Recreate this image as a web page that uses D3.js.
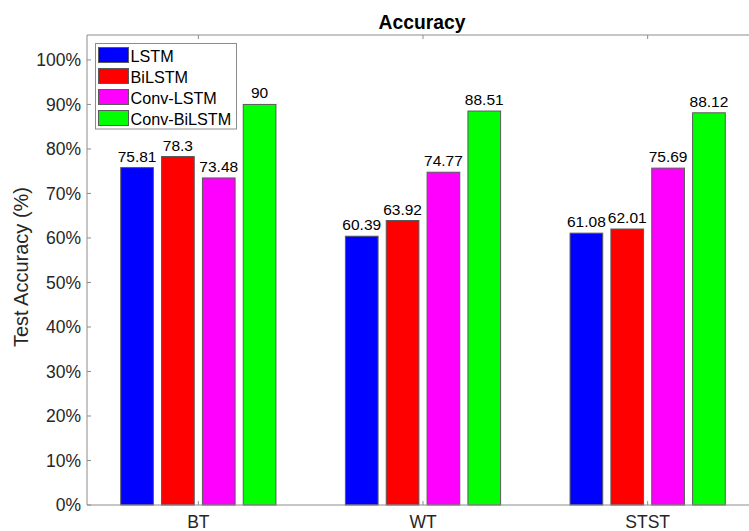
<!DOCTYPE html>
<html>
<head>
<meta charset="utf-8">
<script src="https://cdn.jsdelivr.net/npm/d3@7"></script>
<style>
  html, body { margin: 0; padding: 0; background: #fff; }
  svg { display: block; font-family: "Liberation Sans", Arial, Helvetica, sans-serif; }
</style>
</head>
<body>
<svg id="chart" width="749" height="531"></svg>
<script>
const categories = ["BT", "WT", "STST"];
const seriesNames = ["LSTM", "BiLSTM", "Conv-LSTM", "Conv-BiLSTM"];
const seriesColors = ["#0000ff", "#ff0000", "#ff00ff", "#00ff00"];
const LSTM = [75.81, 60.39, 61.08];
const BiLSTM = [78.3, 63.92, 62.01];
const ConvLSTM = [73.48, 74.77, 75.69];
const ConvBiLSTM = [90, 88.51, 88.12];
const yTicks = [0, 10, 20, 30, 40, 50, 60, 70, 80, 90, 100];
const labelTexts = [
  ["75.81", "60.39", "61.08"],
  ["78.3", "63.92", "62.01"],
  ["73.48", "74.77", "75.69"],
  ["90", "88.51", "88.12"]
];
const series = [LSTM, BiLSTM, ConvLSTM, ConvBiLSTM];

const svg = d3.select("#chart");
const pLeft = 87, pRight = 760, pTop = 35, pBottom = 505;

const x = d3.scaleLinear().domain([0.5, 3.5]).range([pLeft - 1, pRight]);
const y = d3.scaleLinear().domain([0, 105.6]).range([pBottom, pTop]);

const axisColor = "#8c8c8c";
const textColor = "#262626";

// MATLAB grouped bar geometry
const nS = series.length;
const groupW = Math.min(0.8, nS / (nS + 1.5));
const step = groupW / nS;
const barW = step * 0.8;

const g = svg.append("g");

series.forEach((vals, si) => {
  vals.forEach((v, ci) => {
    const cx = (ci + 1) - groupW / 2 + step * (si + 0.5);
    const x0 = x(cx - barW / 2), x1 = x(cx + barW / 2);
    g.append("rect")
      .attr("x", x0).attr("y", y(v))
      .attr("width", x1 - x0).attr("height", y(0) - y(v))
      .attr("fill", seriesColors[si])
      .attr("stroke", "#5a5a5a").attr("stroke-width", 1);
    g.append("text")
      .attr("x", x(cx)).attr("y", y(v) - 6)
      .attr("text-anchor", "middle")
      .attr("font-size", "15.5px")
      .attr("fill", "#000")
      .text(labelTexts[si][ci]);
  });
});

// Box
svg.append("line").attr("x1", pLeft).attr("x2", 749).attr("y1", pTop).attr("y2", pTop)
  .attr("stroke", axisColor).attr("stroke-width", 1);
svg.append("line").attr("x1", pLeft).attr("x2", 749).attr("y1", pBottom).attr("y2", pBottom)
  .attr("stroke", axisColor).attr("stroke-width", 1);
svg.append("line").attr("x1", pLeft).attr("x2", pLeft).attr("y1", pTop).attr("y2", pBottom)
  .attr("stroke", axisColor).attr("stroke-width", 1);

// Y ticks
yTicks.forEach(t => {
  svg.append("line").attr("x1", pLeft).attr("x2", pLeft + 4)
    .attr("y1", y(t)).attr("y2", y(t)).attr("stroke", axisColor);
  svg.append("text").attr("x", 81).attr("y", y(t)).attr("dy", "0.36em")
    .attr("text-anchor", "end").attr("font-size", "17.5px").attr("fill", textColor)
    .text(t + "%");
});

// X ticks
categories.forEach((c, i) => {
  const xc = x(i + 1);
  svg.append("line").attr("x1", xc).attr("x2", xc).attr("y1", pBottom).attr("y2", pBottom - 4).attr("stroke", axisColor);
  svg.append("line").attr("x1", xc).attr("x2", xc).attr("y1", pTop).attr("y2", pTop + 4).attr("stroke", axisColor);
  svg.append("text").attr("x", xc).attr("y", 528)
    .attr("text-anchor", "middle").attr("font-size", "17.5px").attr("fill", textColor)
    .text(c);
});

// Title
svg.append("text").attr("x", 422).attr("y", 28.5)
  .attr("text-anchor", "middle").attr("font-size", "19.3px").attr("font-weight", "bold")
  .attr("fill", "#000").text("Accuracy");

// Y label
svg.append("text")
  .attr("transform", "translate(28,267) rotate(-90)")
  .attr("text-anchor", "middle").attr("font-size", "20px").attr("fill", textColor)
  .text("Test Accuracy (%)");

// Legend
const lg = svg.append("g");
lg.append("rect").attr("x", 95.5).attr("y", 43.5).attr("width", 141).attr("height", 85.5)
  .attr("fill", "#fff").attr("stroke", axisColor).attr("stroke-width", 1);
seriesNames.forEach((n, i) => {
  const ty = 47.5 + i * 21;
  lg.append("rect").attr("x", 98.5).attr("y", ty).attr("width", 30).attr("height", 15)
    .attr("fill", seriesColors[i]).attr("stroke", "#5a5a5a");
  lg.append("text").attr("x", 130.5).attr("y", ty + 14.2)
    .attr("font-size", "16.2px").attr("fill", "#000").text(n);
});
</script>
</body>
</html>
